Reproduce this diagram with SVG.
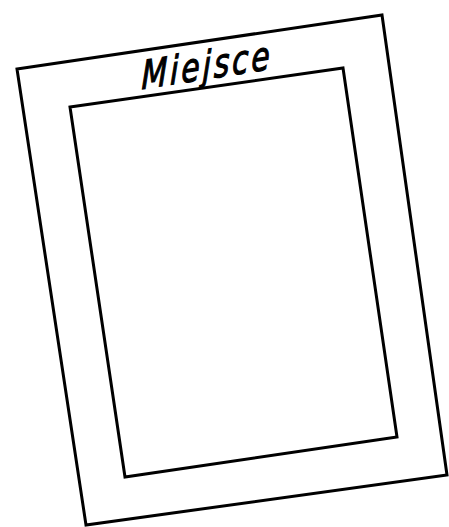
<svg xmlns="http://www.w3.org/2000/svg" width="449" height="527" viewBox="0 0 449 527">
<style>
.f{fill:none;stroke:#000;stroke-width:3;stroke-linejoin:miter}
.t{font-family:"DejaVu Sans","Liberation Sans",sans-serif;font-style:italic;font-size:30px;fill:#000;stroke:#000;stroke-width:0.9;letter-spacing:3px}
</style>
<rect width="449" height="527" fill="#fff"/>
<g id="outer-frame"><polygon class="f" points="17,69 382,15 447,475 86,525"/></g>
<g id="inner-frame"><polygon class="f" points="70,107 343,68 397,437 125,477"/></g>
<g id="label"><text class="t" x="0" y="0" text-anchor="middle" transform="translate(207,79) rotate(-9) skewX(-10) scale(1,1.3)">Miejsce</text></g>
</svg>
